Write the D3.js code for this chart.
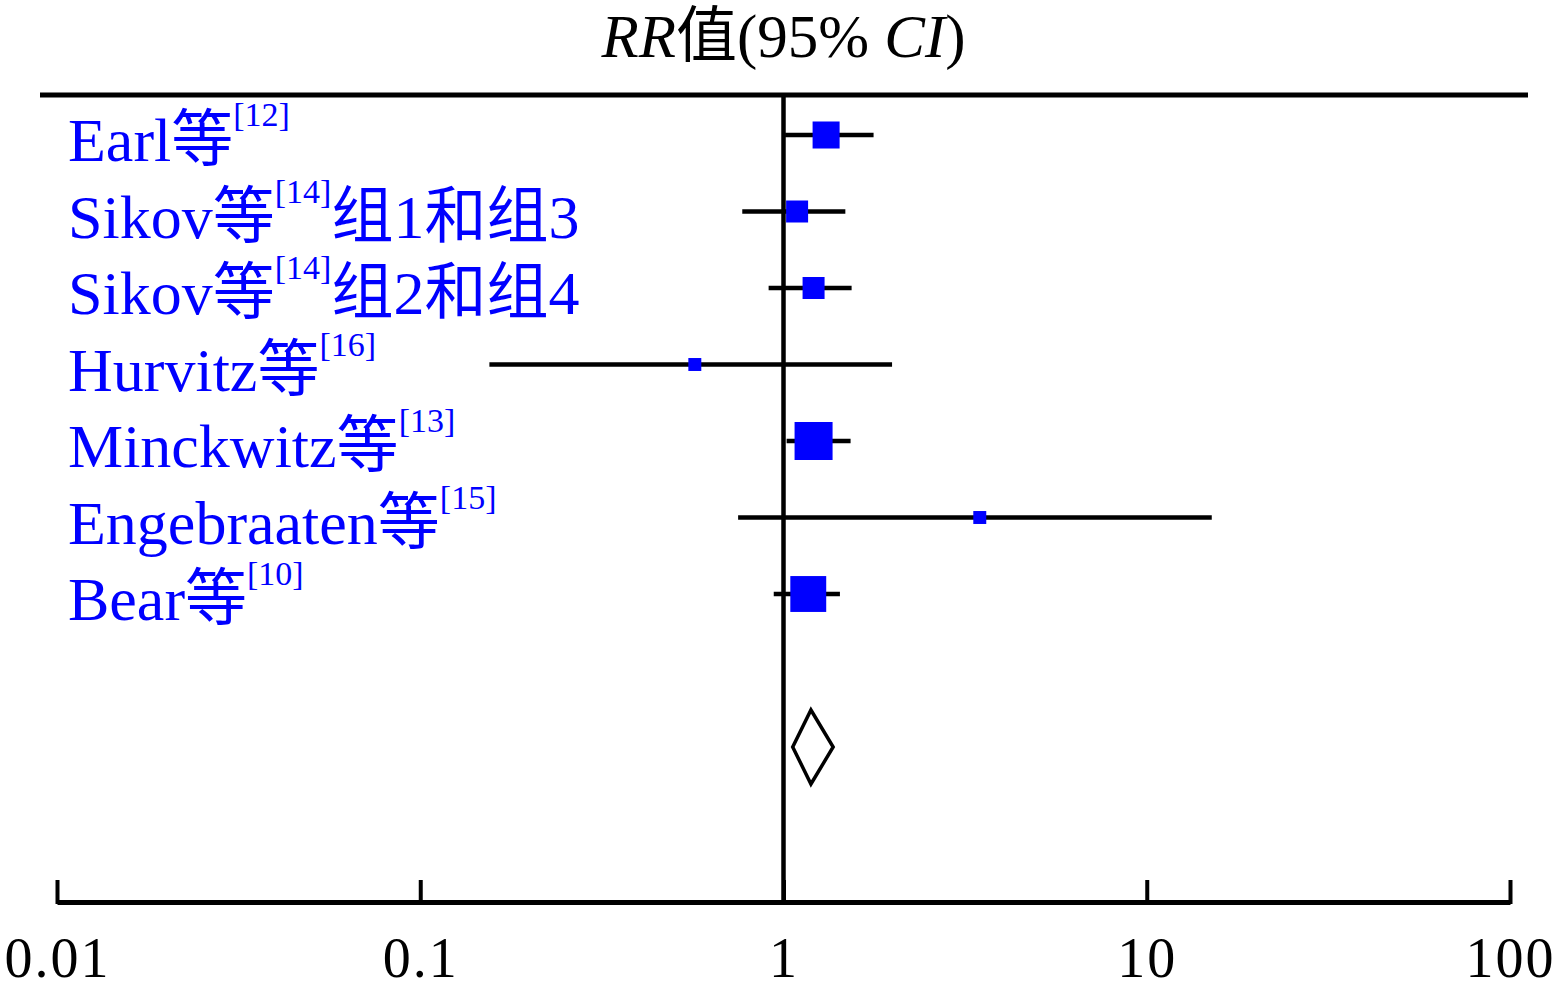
<!DOCTYPE html>
<meta charset="utf-8">
<style>
body { margin: 0; background: #fff; }
svg { display: block; }
text { font-family: "Liberation Serif", "Times New Roman", "Noto Sans CJK SC", serif; }
.study { fill: #0000ff; font-size: 62px; }
.axis text { font-size: 56px; fill: #000; letter-spacing: 2px; }
</style>
<svg width="1558" height="984"></svg>
<script src="https://cdn.jsdelivr.net/npm/d3@7"></script>
<script>

// studies
var studies  = ["Earl等", "Sikov等", "Sikov等", "Hurvitz等", "Minckwitz等", "Engebraaten等", "Bear等"];
var refs     = ["[12]", "[14]", "[14]", "[16]", "[13]", "[15]", "[10]"];
var suffixes = ["", "组1和组3", "组2和组4", "", "", "", ""];
var rr       = [1.31, 1.09, 1.21, 0.57, 1.21, 3.47, 1.17];
var lower    = [1.01, 0.77, 0.91, 0.155, 1.02, 0.75, 0.94];
var upper    = [1.77, 1.48, 1.54, 1.99, 1.53, 15.1, 1.43];
var weights  = [18.7, 12.4, 12.4, 4.3, 37, 4.3, 33];

// pooled estimate: lower, rr, upper
var pooled = [1.06, 1.19, 1.37];

var tickVals   = [0.01, 0.1, 1, 10, 100];
var tickLabels = ["0.01", "0.1", "1", "10", "100"];

var svg = d3.select("svg");

var x = d3.scaleLog().domain([0.01, 100]).range([57, 1510]);
var y = d3.scaleLinear().domain([0, 8]).range([135, 747]);
var side = d3.scaleSqrt().domain([0, 37]).range([0, 38]);

var rows = studies.map(function(s, i) {
  return {name: s, ref: refs[i], suffix: suffixes[i], rr: rr[i], lo: lower[i], hi: upper[i], w: weights[i], i: i};
});

// title
var title = svg.append("text")
    .attr("x", x(1))
    .attr("y", 57)
    .attr("text-anchor", "middle")
    .style("font-size", "61px");
title.append("tspan").style("font-style", "italic").text("RR");
title.append("tspan").text("值(95% ");
title.append("tspan").style("font-style", "italic").text("CI");
title.append("tspan").text(")");

// top rule
svg.append("line")
    .attr("x1", 40).attr("x2", 1528)
    .attr("y1", 95).attr("y2", 95)
    .attr("stroke", "#000").attr("stroke-width", 5);

// axis
var axisY = 902;
var axis = svg.append("g")
    .attr("class", "axis")
    .attr("transform", "translate(0," + axisY + ")")
    .call(d3.axisBottom(x)
      .tickValues(tickVals)
      .tickFormat(function(d, i) { return tickLabels[i]; })
      .tickSizeInner(-22)
      .tickSizeOuter(0)
      .tickPadding(35));
axis.attr("font-family", null).attr("font-size", null);
axis.select(".domain").attr("stroke", "#000").attr("stroke-width", 5);
axis.selectAll(".tick line").attr("stroke", "#000").attr("stroke-width", 4).attr("y1", 2);

// line of no effect
svg.append("line")
    .attr("x1", x(1)).attr("x2", x(1))
    .attr("y1", 95).attr("y2", axisY)
    .attr("stroke", "#000").attr("stroke-width", 4.5);

// study labels
var label = svg.append("g").selectAll("text")
    .data(rows)
    .enter().append("text")
      .attr("class", "study")
      .attr("x", 68)
      .attr("y", function(d) { return y(d.i) + 26; });
label.append("tspan").text(function(d) { return d.name; });
label.append("tspan")
    .attr("dy", -35)
    .style("font-size", "34px")
    .text(function(d) { return d.ref; });
label.filter(function(d) { return d.suffix; })
  .append("tspan")
    .attr("dy", 35)
    .text(function(d) { return d.suffix; });

// confidence intervals
svg.append("g").selectAll("line")
    .data(rows)
    .enter().append("line")
      .attr("x1", function(d) { return x(d.lo); })
      .attr("x2", function(d) { return x(d.hi); })
      .attr("y1", function(d) { return y(d.i); })
      .attr("y2", function(d) { return y(d.i); })
      .attr("stroke", "#000")
      .attr("stroke-width", 4.5);

// weight squares
svg.append("g").selectAll("rect")
    .data(rows)
    .enter().append("rect")
      .attr("x", function(d) { return x(d.rr) - side(d.w) / 2; })
      .attr("y", function(d) { return y(d.i) - side(d.w) / 2; })
      .attr("width", function(d) { return side(d.w); })
      .attr("height", function(d) { return side(d.w); })
      .attr("fill", "#0000ff");

// pooled diamond
var py = y(8), ph = 37;
svg.append("path")
    .attr("d", "M" + x(pooled[0]) + "," + py +
               "L" + x(pooled[1]) + "," + (py - ph) +
               "L" + x(pooled[2]) + "," + py +
               "L" + x(pooled[1]) + "," + (py + ph) + "Z")
    .attr("fill", "#fff")
    .attr("stroke", "#000")
    .attr("stroke-width", 3.5);

</script>
